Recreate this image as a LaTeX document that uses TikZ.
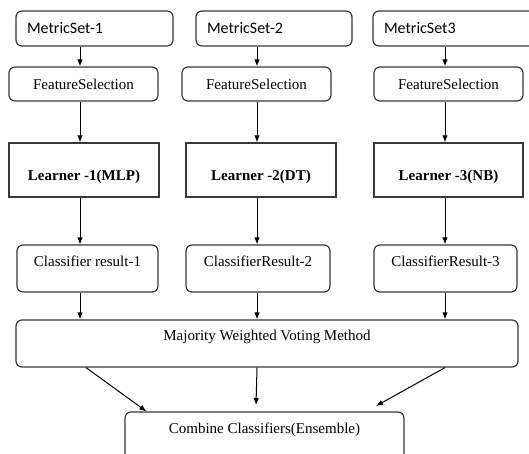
\documentclass[tikz,border=0pt]{standalone}
\usepackage{fontspec}
\setmainfont{Liberation Serif}
\setsansfont{Carlito}
\usetikzlibrary{arrows.meta}

\tikzset{
  box/.style={draw=black!78, line width=1.2pt, rounded corners=6pt, inner sep=0pt},
  metric/.style={box, font=\sffamily\fontsize{16}{18}\selectfont, minimum height=35pt,
    inner xsep=11pt, text width=#1, align=left},
  featsel/.style={box, font=\fontsize{15}{17}\selectfont, minimum width=149pt, minimum height=34pt},
  learner/.style={box, rounded corners=0pt, font=\bfseries\fontsize{15}{17}\selectfont,
    minimum height=54pt, text height=21pt, text depth=0pt},
  result/.style={box, font=\fontsize{15}{17}\selectfont, minimum height=47pt,
    text height=10pt, text depth=15pt},
  arr/.style={->, line width=1pt, draw=black}
}

\begin{document}
\begin{tikzpicture}[x=1pt, y=-1pt, >={Latex[length=7pt,width=5.5pt]}]
\useasboundingbox (0,0) rectangle (529,454);
\clip (0,0) rectangle (529,454);

% arrow columns
\coordinate (c1) at (80,0);
\coordinate (c2) at (257,0);
\coordinate (c3) at (445,0);
\coordinate (d1) at (86,0);
\coordinate (e2) at (256,405);
\coordinate (e3) at (376,406);

% metric sets
\node[metric=135pt] (ms1) at (94.5,28.5) {MetricSet-1};
\node[metric=134pt] (ms2) at (274,28.5) {MetricSet-2};
\node[metric=145pt] (ms3) at (456.5,28.5) {MetricSet3};

% feature selection
\node[featsel] (fs1) at (83.5,84) {FeatureSelection};
\node[featsel] (fs2) at (256.5,84) {FeatureSelection};
\node[featsel] (fs3) at (448.5,84) {FeatureSelection};

% learners
\node[learner, minimum width=150pt] (ln1) at (84,170) {Learner -1(MLP)};
\node[learner, minimum width=150pt] (ln2) at (261,170) {Learner -2(DT)};
\node[learner, minimum width=149pt] (ln3) at (448.5,170) {Learner -3(NB)};

% classifier results
\node[result, minimum width=141pt] (cr1) at (87.5,268.5) {Classifier result-1};
\node[result, minimum width=144pt] (cr2) at (258,268.5) {ClassifierResult-2};
\node[result, minimum width=143pt] (cr3) at (445.5,268.5) {ClassifierResult-3};

% voting and ensemble
\node[result, minimum width=502pt, text depth=16pt] (vote) at (267,343.5) {Majority Weighted Voting Method};
\node[result, minimum width=279pt, minimum height=58pt, text depth=26pt] (comb) at (264.5,441) {Combine Classifiers(Ensemble)};

\foreach \c/\a/\b in {c1/ms1/fs1, c2/ms2/fs2, c3/ms3/fs3,
                      c1/fs1/ln1, c2/fs2/ln2, c3/fs3/ln3,
                      c1/ln1/cr1, c2/ln2/cr2, c3/ln3/cr3}
  \draw[arr] (\a.south -| \c) -- (\b.north -| \c);

\draw[arr] (cr1.south -| c1) -- (vote.north -| c1);
\draw[arr] (cr2.south -| c2) -- (vote.north -| c2);
\draw[arr] (cr3.south -| c3) -- (vote.north -| c3);

\draw[arr] (vote.south -| d1) -- ([xshift=22pt]comb.north west);
\draw[arr] (vote.south -| c2) -- (e2);
\draw[arr] (vote.south -| c3) -- (e3);
\end{tikzpicture}
\end{document}
